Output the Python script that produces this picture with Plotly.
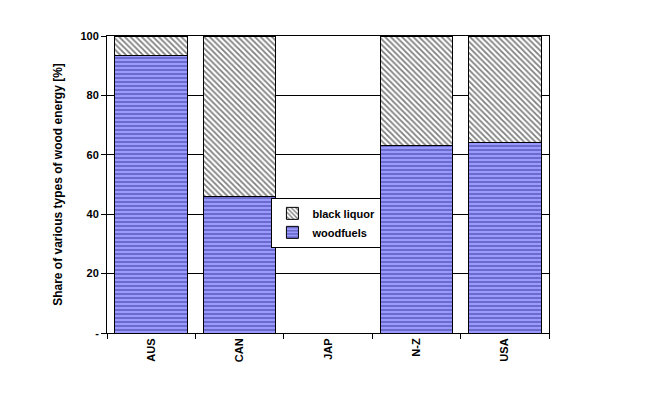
import plotly.graph_objects as go

countries = ['AUS', 'CAN', 'JAP', 'N-Z', 'USA']
woodfuels = [93.5, 46, None, 63, 64]
black_liquor = [6.5, 54, None, 37, 36]
y_ticks = [0, 20, 40, 60, 80, 100]
y_tick_text = ['-', '20', '40', '60', '80', '100']

fig = go.Figure()
fig.add_trace(go.Bar(
  x=countries, y=woodfuels, name='woodfuels', legendgroup='a',
  marker=dict(color='#9999FF', line=dict(color='black', width=1),
              pattern=dict(shape='-', fgcolor='#000050', size=4, solidity=0.3)),
))
fig.add_trace(go.Bar(
  x=countries, y=black_liquor, name='black liquor', legendgroup='b',
  marker=dict(color='white', line=dict(color='black', width=1),
              pattern=dict(shape='\\', fgcolor='black', size=4, solidity=0.45)),
))

fig.update_layout(
  barmode='stack', bargap=0.18,
  width=647, height=417,
  paper_bgcolor='white', plot_bgcolor='white',
  margin=dict(l=99, r=106, t=28, b=92, autoexpand=False),
  font=dict(family='Liberation Sans, Arial', size=11, color='black', weight='bold'),
  showlegend=True,
  legend=dict(x=0.372, y=0.455, xanchor='left', yanchor='top',
              bgcolor='white', bordercolor='black', borderwidth=1,
              traceorder='reversed', tracegroupgap=26,
              font=dict(size=11, family='Liberation Sans, Arial'),
              entrywidth=100, itemwidth=30),
)
fig.update_xaxes(
  tickangle=-90, showline=True, linecolor='black', mirror=True,
  ticks='outside', tickcolor='black', ticklen=5, tickson='boundaries',
  tickfont=dict(family='Liberation Sans, Arial', size=11), automargin=False,
)
fig.update_yaxes(
  range=[0, 100], tickvals=y_ticks, ticktext=y_tick_text,
  showgrid=True, gridcolor='black', gridwidth=1,
  showline=True, linecolor='black', mirror=True,
  ticks='outside', tickcolor='black', ticklen=5, automargin=False,
  title=dict(text='<b>Share of various types of wood energy [%]</b>', font=dict(size=12)),
  tickfont=dict(family='Liberation Sans, Arial', size=11),
)
fig.write_html('out.html')
